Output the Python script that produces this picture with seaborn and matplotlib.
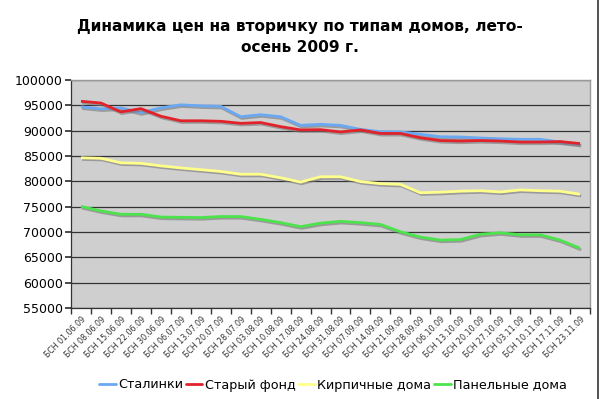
import matplotlib
matplotlib.use("Agg")
import matplotlib.pyplot as plt
import matplotlib.patheffects as pe
from matplotlib.lines import Line2D
import seaborn as sns
import pandas as pd

dates = ["БСН 01.06.09", "БСН 08.06.09", "БСН 15.06.09", "БСН 22.06.09", "БСН 30.06.09",
         "БСН 06.07.09", "БСН 13.07.09", "БСН 20.07.09", "БСН 28.07.09", "БСН 03.08.09",
         "БСН 10.08.09", "БСН 17.08.09", "БСН 24.08.09", "БСН 31.08.09", "БСН 07.09.09",
         "БСН 14.09.09", "БСН 21.09.09", "БСН 28.09.09", "БСН 06.10.09", "БСН 13.10.09",
         "БСН 20.10.09", "БСН 27.10.09", "БСН 03.11.09", "БСН 10.11.09", "БСН 17.11.09",
         "БСН 23.11.09"]

stalinki = [94700, 94300, 94500, 93550, 94500, 95100, 94900, 94800, 92750, 93150,
            92750, 91050, 91250, 91050, 90250, 89800, 89750, 89300, 88800, 88750,
            88550, 88400, 88300, 88300, 87750, 87300]
stary_fond = [95800, 95450, 93700, 94350, 92850, 91950, 91950, 91850, 91450, 91600,
              90800, 90150, 90200, 89750, 90150, 89450, 89450, 88600, 88050, 87950,
              88050, 87950, 87750, 87750, 87850, 87450]
kirpich = [84650, 84550, 83650, 83550, 83050, 82650, 82300, 81950, 81400, 81400,
           80700, 79850, 80900, 80900, 79950, 79550, 79400, 77750, 77850, 78050,
           78150, 77900, 78300, 78150, 78050, 77450]
panel = [75050, 74150, 73500, 73500, 72950, 72900, 72850, 73050, 73050, 72500,
         71850, 71050, 71750, 72100, 71850, 71500, 70050, 69000, 68400, 68500,
         69550, 69850, 69450, 69450, 68400, 66800]

series_names = ["Сталинки", "Старый фонд", "Кирпичные дома", "Панельные дома"]
series_vals = [stalinki, stary_fond, kirpich, panel]
colors = ["#6AA8F2", "#E2222A", "#FFFF8C", "#4CE34C"]

df = pd.concat([pd.DataFrame({"date": dates, "price": v, "type": n})
                for n, v in zip(series_names, series_vals)], ignore_index=True)

sns.set_theme(style="white")
plt.rcParams["font.family"] = ["DejaVu Sans"]
plt.rcParams["text.color"] = "black"
plt.rcParams["xtick.color"] = "black"
plt.rcParams["ytick.color"] = "black"

fig = plt.figure(figsize=(6.0, 3.99), dpi=100)
ax = fig.add_axes([71/600, 1-308/399, (590-71)/600, (308-80)/399])
ax.set_facecolor("#CFCFCF")

sns.lineplot(data=df, x="date", y="price", hue="type", palette=colors,
             hue_order=series_names, ax=ax, linewidth=2.0, sort=False, legend=False)

shadow = [pe.SimpleLineShadow(offset=(0.8, -1.2), shadow_color="#777777", alpha=0.6),
          pe.Normal()]
for ln in ax.get_lines():
    ln.set_path_effects(shadow)
    ln.set_solid_capstyle("butt")

ax.set_xlim(-0.5, len(dates) - 0.5)
ax.set_ylim(55000, 100000)
ax.set_yticks(range(55000, 100001, 5000))
ax.set_yticklabels([str(v) for v in range(55000, 100001, 5000)], fontsize=9, color="black")
ax.yaxis.grid(True, color="#333333", linewidth=0.9)
ax.xaxis.grid(False)
ax.set_axisbelow(True)

ax.set_xticks(range(len(dates)))
ax.set_xticklabels(dates, rotation=45, ha="right", rotation_mode="anchor",
                   fontsize=5.7, color="#333333")
ax.tick_params(axis="x", length=0, pad=5)
ax.set_xticks([i - 0.5 for i in range(len(dates) + 1)], minor=True)
ax.tick_params(axis="x", which="minor", direction="out", length=4, color="#333333", bottom=True)
ax.tick_params(axis="y", direction="out", length=4, color="#333333", left=True, pad=2)
ax.set_xlabel("")
ax.set_ylabel("")

for s in ["left", "bottom"]:
    ax.spines[s].set_color("#333333")
    ax.spines[s].set_linewidth(0.9)
for s in ["top", "right"]:
    ax.spines[s].set_color("#999999")
    ax.spines[s].set_linewidth(1.0)

fig.text(0.5, 1-27/399, "Динамика цен на вторичку по типам домов, лето-",
         ha="center", va="center", fontsize=11.1, fontweight="bold", color="black")
fig.text(0.5, 1-48/399, "осень 2009 г.",
         ha="center", va="center", fontsize=11.1, fontweight="bold", color="black")

handles = [Line2D([0], [0], color=c, lw=2.0) for c in colors]
fig.legend(handles, series_names, loc="center", bbox_to_anchor=(333/600, 1-385/399),
           ncol=4, frameon=False, fontsize=9.2, handlelength=1.3, handletextpad=0.2,
           columnspacing=0.2, borderpad=0, labelcolor="black")

fig.add_artist(Line2D([597.5/600, 597.5/600], [0, 1], transform=fig.transFigure,
                      color="#333333", lw=1.2))

fig.savefig("out.png", dpi=100, facecolor="white")
